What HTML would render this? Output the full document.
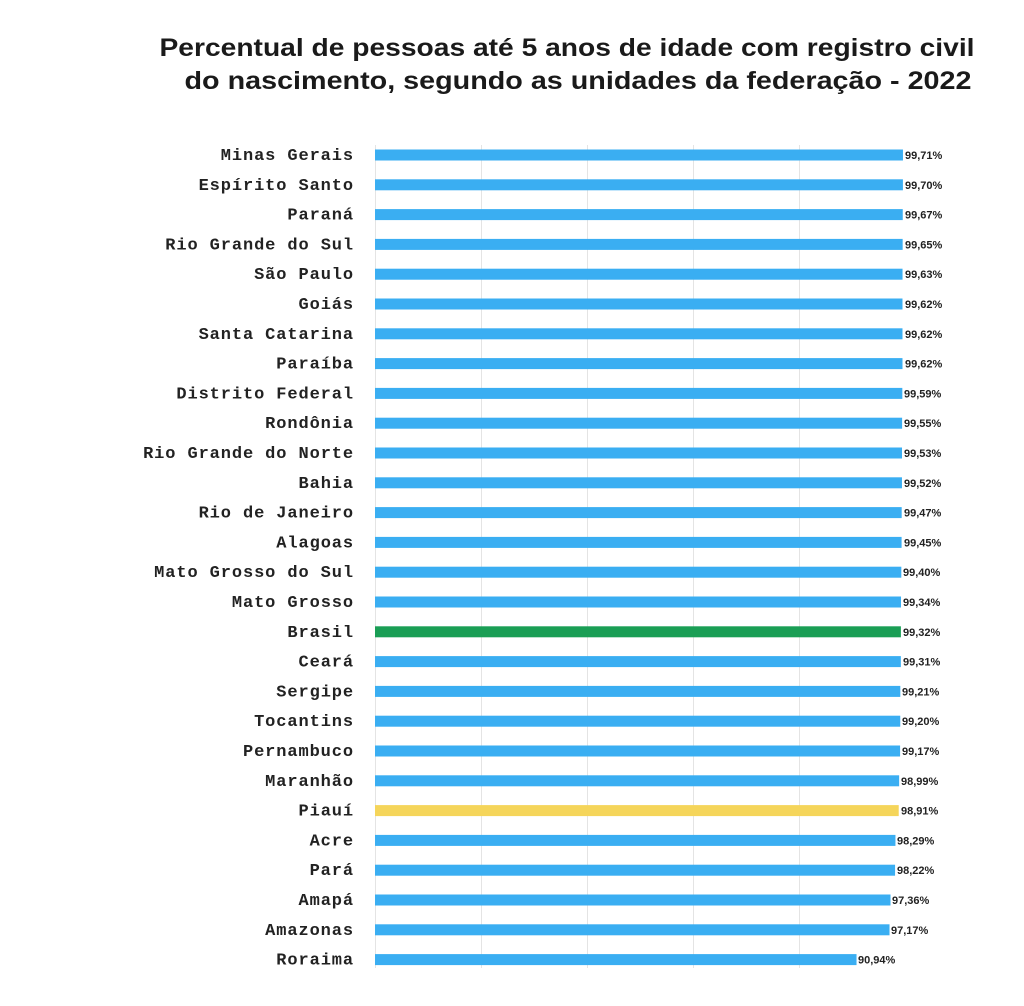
<!DOCTYPE html>
<html><head><meta charset="utf-8"><style>
html,body{margin:0;padding:0;background:#fff;}
</style></head><body>
<svg width="1024" height="1006" xmlns="http://www.w3.org/2000/svg" style="display:block">
<rect width="1024" height="1006" fill="#fff"/>
<text x="567" y="56" text-anchor="middle" font-family="Liberation Sans, sans-serif" font-weight="bold" font-size="25" fill="#1a1a1a" textLength="815" lengthAdjust="spacingAndGlyphs">Percentual de pessoas até 5 anos de idade com registro civil</text>
<text x="578" y="89" text-anchor="middle" font-family="Liberation Sans, sans-serif" font-weight="bold" font-size="25" fill="#1a1a1a" textLength="787" lengthAdjust="spacingAndGlyphs">do nascimento, segundo as unidades da federação - 2022</text>
<g stroke="#e4e4e4" stroke-width="1">
<line x1="375.5" y1="145" x2="375.5" y2="968"/>
<line x1="481.5" y1="145" x2="481.5" y2="968"/>
<line x1="587.5" y1="145" x2="587.5" y2="968"/>
<line x1="693.5" y1="145" x2="693.5" y2="968"/>
<line x1="799.5" y1="145" x2="799.5" y2="968"/>
</g>
<g fill="#3aaef2">
<rect x="375" y="149.5" width="527.96" height="11"/>
<rect x="375" y="179.3" width="527.91" height="11"/>
<rect x="375" y="209.1" width="527.75" height="11"/>
<rect x="375" y="238.9" width="527.65" height="11"/>
<rect x="375" y="268.7" width="527.54" height="11"/>
<rect x="375" y="298.5" width="527.49" height="11"/>
<rect x="375" y="328.3" width="527.49" height="11"/>
<rect x="375" y="358.1" width="527.49" height="11"/>
<rect x="375" y="387.9" width="527.33" height="11"/>
<rect x="375" y="417.7" width="527.12" height="11"/>
<rect x="375" y="447.5" width="527.01" height="11"/>
<rect x="375" y="477.3" width="526.96" height="11"/>
<rect x="375" y="507.1" width="526.69" height="11"/>
<rect x="375" y="536.9" width="526.59" height="11"/>
<rect x="375" y="566.7" width="526.32" height="11"/>
<rect x="375" y="596.5" width="526.01" height="11"/>
<rect x="375" y="626.3" width="525.90" height="11" fill="#1a9e55"/>
<rect x="375" y="656.1" width="525.85" height="11"/>
<rect x="375" y="685.9" width="525.32" height="11"/>
<rect x="375" y="715.7" width="525.26" height="11"/>
<rect x="375" y="745.5" width="525.10" height="11"/>
<rect x="375" y="775.3" width="524.15" height="11"/>
<rect x="375" y="805.1" width="523.73" height="11" fill="#f5d55a"/>
<rect x="375" y="834.9" width="520.45" height="11"/>
<rect x="375" y="864.7" width="520.07" height="11"/>
<rect x="375" y="894.5" width="515.52" height="11"/>
<rect x="375" y="924.3" width="514.52" height="11"/>
<rect x="375" y="954.1" width="481.53" height="11"/>
</g>
<g font-family="Liberation Mono, monospace" font-weight="bold" font-size="17" letter-spacing="0.9" fill="#222" text-anchor="end">
<text x="354" y="160">Minas Gerais</text>
<text x="354" y="189.8">Espírito Santo</text>
<text x="354" y="219.6">Paraná</text>
<text x="354" y="249.4">Rio Grande do Sul</text>
<text x="354" y="279.2">São Paulo</text>
<text x="354" y="309">Goiás</text>
<text x="354" y="338.8">Santa Catarina</text>
<text x="354" y="368.6">Paraíba</text>
<text x="354" y="398.4">Distrito Federal</text>
<text x="354" y="428.2">Rondônia</text>
<text x="354" y="458">Rio Grande do Norte</text>
<text x="354" y="487.8">Bahia</text>
<text x="354" y="517.6">Rio de Janeiro</text>
<text x="354" y="547.4">Alagoas</text>
<text x="354" y="577.2">Mato Grosso do Sul</text>
<text x="354" y="607">Mato Grosso</text>
<text x="354" y="636.8">Brasil</text>
<text x="354" y="666.6">Ceará</text>
<text x="354" y="696.4">Sergipe</text>
<text x="354" y="726.2">Tocantins</text>
<text x="354" y="756">Pernambuco</text>
<text x="354" y="785.8">Maranhão</text>
<text x="354" y="815.6">Piauí</text>
<text x="354" y="845.4">Acre</text>
<text x="354" y="875.2">Pará</text>
<text x="354" y="905">Amapá</text>
<text x="354" y="934.8">Amazonas</text>
<text x="354" y="964.6">Roraima</text>
</g>
<g font-family="Liberation Sans, sans-serif" font-weight="bold" font-size="11" fill="#222">
<text x="905" y="159">99,71%</text>
<text x="905" y="188.8">99,70%</text>
<text x="905" y="218.6">99,67%</text>
<text x="905" y="248.4">99,65%</text>
<text x="905" y="278.2">99,63%</text>
<text x="905" y="308">99,62%</text>
<text x="905" y="337.8">99,62%</text>
<text x="905" y="367.6">99,62%</text>
<text x="904" y="397.4">99,59%</text>
<text x="904" y="427.2">99,55%</text>
<text x="904" y="457">99,53%</text>
<text x="904" y="486.8">99,52%</text>
<text x="904" y="516.6">99,47%</text>
<text x="904" y="546.4">99,45%</text>
<text x="903" y="576.2">99,40%</text>
<text x="903" y="606">99,34%</text>
<text x="903" y="635.8">99,32%</text>
<text x="903" y="665.6">99,31%</text>
<text x="902" y="695.4">99,21%</text>
<text x="902" y="725.2">99,20%</text>
<text x="902" y="755">99,17%</text>
<text x="901" y="784.8">98,99%</text>
<text x="901" y="814.6">98,91%</text>
<text x="897" y="844.4">98,29%</text>
<text x="897" y="874.2">98,22%</text>
<text x="892" y="904">97,36%</text>
<text x="891" y="933.8">97,17%</text>
<text x="858" y="963.6">90,94%</text>
</g>
</svg>
</body></html>
